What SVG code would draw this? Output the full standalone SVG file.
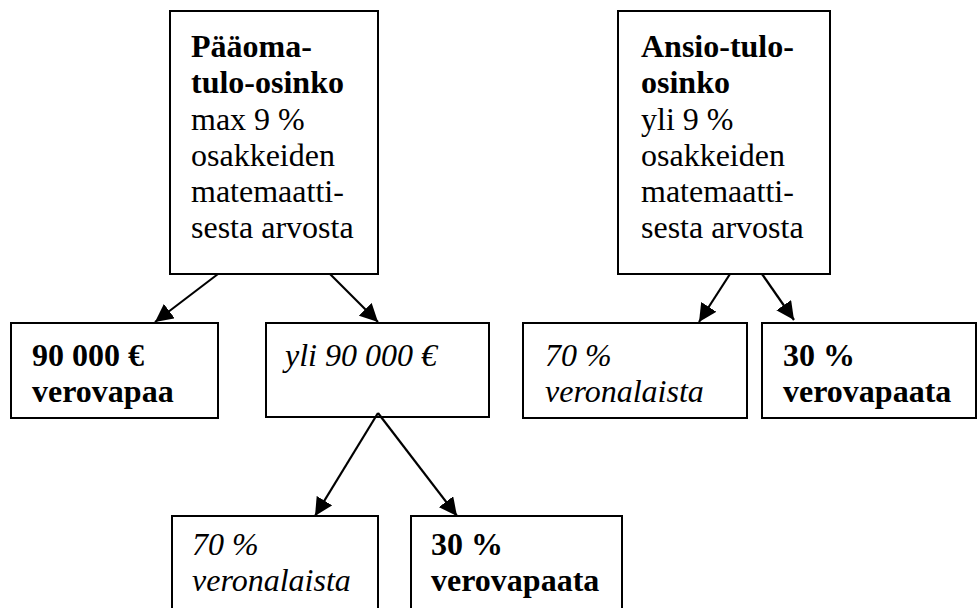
<svg xmlns="http://www.w3.org/2000/svg" width="978" height="608" viewBox="0 0 978 608">
  <style>
    .box { fill: #ffffff; stroke: #000000; stroke-width: 2; }
    text { font-family: 'Liberation Serif', 'Times New Roman', serif; font-size: 32px; fill: #000000; }
    .b { font-weight: bold; }
    .i { font-style: italic; }
    .conn line { stroke: #000000; stroke-width: 2.2; }
  </style>
  <defs>
    <marker id="ah" markerUnits="userSpaceOnUse" markerWidth="20" markerHeight="18" refX="18" refY="9" orient="auto">
      <path d="M0,0 L18,9 L0,18 z" fill="#000000"/>
    </marker>
  </defs>
  <rect width="978" height="608" fill="#ffffff"/>

  <g id="paaoma">
    <rect class="box" x="170" y="11" width="208" height="263"/>
    <text class="b" x="191" y="57">Pääoma-</text>
    <text class="b" x="191" y="93">tulo-osinko</text>
    <text x="191" y="130">max 9 %</text>
    <text x="191" y="166">osakkeiden</text>
    <text x="191" y="202">matemaatti-</text>
    <text x="191" y="238">sesta arvosta</text>
  </g>

  <g id="ansio">
    <rect class="box" x="618" y="11" width="212" height="263"/>
    <text class="b" x="641" y="57">Ansio-tulo-</text>
    <text class="b" x="641" y="93">osinko</text>
    <text x="641" y="130">yli 9 %</text>
    <text x="641" y="166">osakkeiden</text>
    <text x="641" y="202">matemaatti-</text>
    <text x="641" y="238">sesta arvosta</text>
  </g>

  <g id="verovapaa90">
    <rect class="box" x="11" y="323" width="207" height="95"/>
    <text class="b" x="32" y="366">90 000 €</text>
    <text class="b" x="32" y="402">verovapaa</text>
  </g>

  <g id="yli90">
    <rect class="box" x="266" y="323" width="223" height="94"/>
    <text class="i" x="285" y="366">yli 90 000 €</text>
  </g>

  <g id="ansio70">
    <rect class="box" x="523" y="323" width="224" height="95"/>
    <text class="i" x="545" y="366">70 %</text>
    <text class="i" x="545" y="402">veronalaista</text>
  </g>

  <g id="ansio30">
    <rect class="box" x="762" y="323" width="214" height="95"/>
    <text class="b" x="783" y="366">30 %</text>
    <text class="b" x="783" y="402">verovapaata</text>
  </g>

  <g id="paaoma70">
    <rect class="box" x="172" y="516" width="206" height="100"/>
    <text class="i" x="192" y="555">70 %</text>
    <text class="i" x="192" y="591">veronalaista</text>
  </g>

  <g id="paaoma30">
    <rect class="box" x="411" y="516" width="211" height="100"/>
    <text class="b" x="431" y="555">30 %</text>
    <text class="b" x="431" y="591">verovapaata</text>
  </g>

  <g id="connectors" class="conn">
    <line x1="218" y1="274" x2="155" y2="322" marker-end="url(#ah)"/>
    <line x1="330" y1="274" x2="378" y2="322" marker-end="url(#ah)"/>
    <line x1="730" y1="274" x2="699" y2="322" marker-end="url(#ah)"/>
    <line x1="762" y1="274" x2="794" y2="320" marker-end="url(#ah)"/>
    <line x1="378" y1="413" x2="315" y2="516" marker-end="url(#ah)"/>
    <line x1="378" y1="413" x2="457" y2="516" marker-end="url(#ah)"/>
  </g>
</svg>
